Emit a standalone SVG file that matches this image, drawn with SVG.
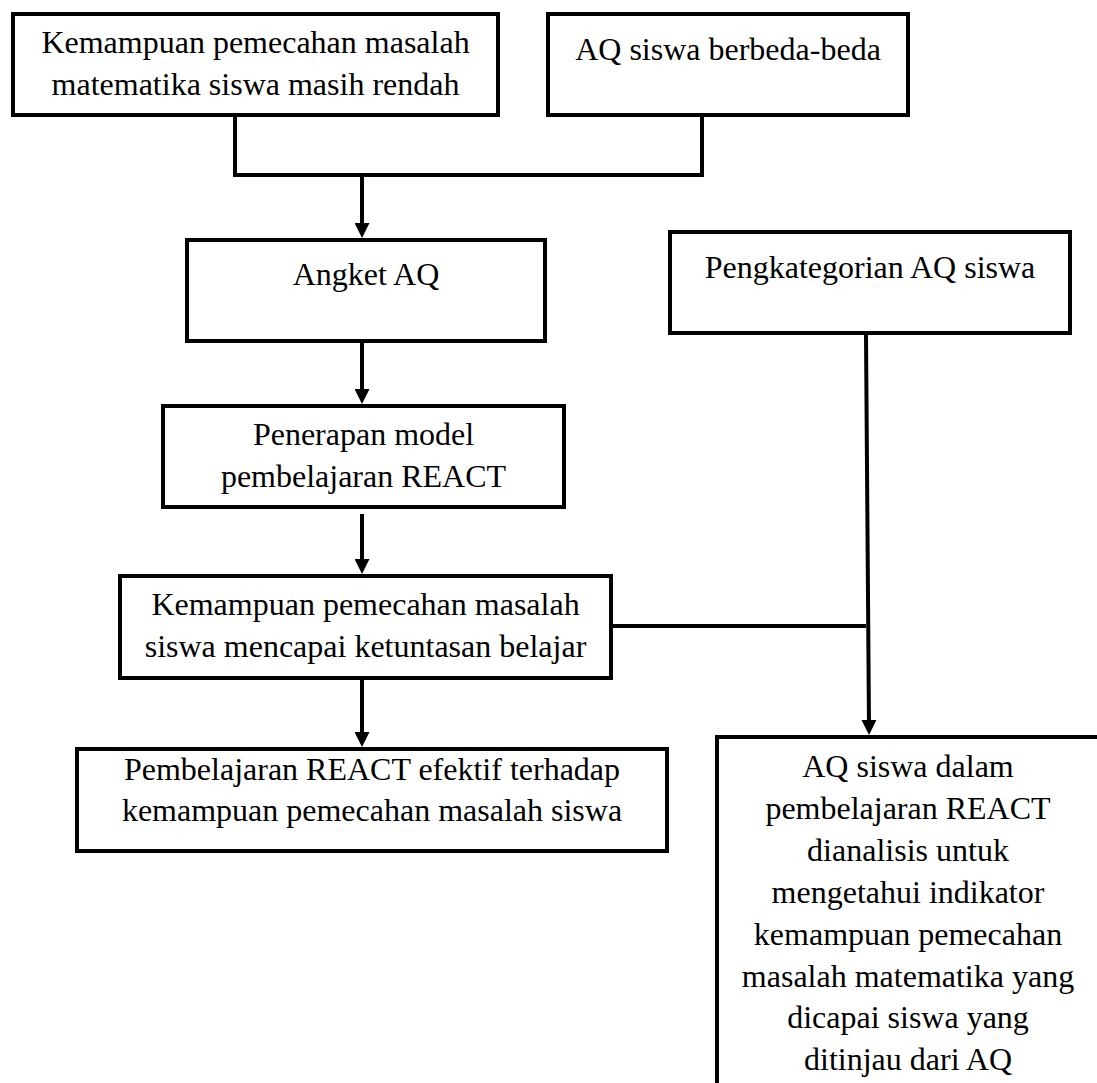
<svg xmlns="http://www.w3.org/2000/svg" width="1097" height="1083" viewBox="0 0 1097 1083">
  <style>
    .box { fill: #ffffff; stroke: #000000; stroke-width: 4; }
    .lbl { font-family: "Liberation Serif", "Times New Roman", serif; font-size: 32px; fill: #000000; text-anchor: middle; }
    .con { fill: none; stroke: #000000; stroke-width: 4; }
  </style>
  <defs>
    <marker id="arr" viewBox="0 0 15 15" refX="7" refY="7.5" markerWidth="15" markerHeight="15" markerUnits="userSpaceOnUse" orient="auto">
      <path d="M0,0 L15,7.5 L0,15 Z" fill="#000000"/>
    </marker>
  </defs>
  <rect x="0" y="0" width="1097" height="1083" fill="#ffffff"/>

  <g id="connectors">
    <polyline class="con" points="235,117 235,175 702,175 702,117"/>
    <line class="con" x1="362" y1="175" x2="362" y2="230" marker-end="url(#arr)"/>
    <line class="con" x1="362" y1="343" x2="362" y2="396" marker-end="url(#arr)"/>
    <line class="con" x1="362" y1="514" x2="362" y2="566" marker-end="url(#arr)"/>
    <line class="con" x1="362" y1="680" x2="362" y2="739" marker-end="url(#arr)"/>
    <line class="con" x1="866" y1="335" x2="869" y2="727" marker-end="url(#arr)"/>
    <line class="con" x1="613" y1="626" x2="866" y2="626"/>
  </g>

  <g id="node-masalah-rendah">
    <rect class="box" x="13" y="14" width="485" height="101"/>
    <text class="lbl" x="255.5" y="53">Kemampuan pemecahan masalah</text>
    <text class="lbl" x="255.5" y="95">matematika siswa masih rendah</text>
  </g>

  <g id="node-aq-berbeda">
    <rect class="box" x="548" y="14" width="360" height="101"/>
    <text class="lbl" x="728" y="60">AQ siswa berbeda-beda</text>
  </g>

  <g id="node-angket">
    <rect class="box" x="187" y="240" width="358" height="101"/>
    <text class="lbl" x="366" y="285">Angket AQ</text>
  </g>

  <g id="node-pengkategorian">
    <rect class="box" x="670" y="232" width="400" height="101"/>
    <text class="lbl" x="870" y="278">Pengkategorian AQ siswa</text>
  </g>

  <g id="node-penerapan">
    <rect class="box" x="163" y="406" width="401" height="101"/>
    <text class="lbl" x="363.5" y="445">Penerapan model</text>
    <text class="lbl" x="363.5" y="487">pembelajaran REACT</text>
  </g>

  <g id="node-ketuntasan">
    <rect class="box" x="120" y="576" width="491" height="102"/>
    <text class="lbl" x="365.5" y="615">Kemampuan pemecahan masalah</text>
    <text class="lbl" x="365.5" y="657">siswa mencapai ketuntasan belajar</text>
  </g>

  <g id="node-efektif">
    <rect class="box" x="77" y="749" width="590" height="102"/>
    <text class="lbl" x="372" y="780">Pembelajaran REACT efektif terhadap</text>
    <text class="lbl" x="372" y="821">kemampuan pemecahan masalah siswa</text>
  </g>

  <g id="node-analisis">
    <rect class="box" x="717" y="737" width="390" height="400"/>
    <text class="lbl" x="908" y="777">AQ siswa dalam</text>
    <text class="lbl" x="908" y="819">pembelajaran REACT</text>
    <text class="lbl" x="908" y="861">dianalisis untuk</text>
    <text class="lbl" x="908" y="903">mengetahui indikator</text>
    <text class="lbl" x="908" y="945">kemampuan pemecahan</text>
    <text class="lbl" x="908" y="987">masalah matematika yang</text>
    <text class="lbl" x="908" y="1028">dicapai siswa yang</text>
    <text class="lbl" x="908" y="1070">ditinjau dari AQ</text>
  </g>
</svg>
